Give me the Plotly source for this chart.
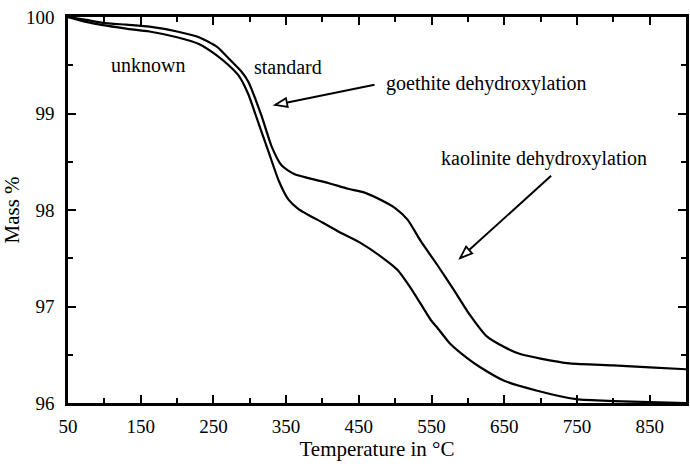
import plotly.graph_objects as go
import math

# ---- data ----
std_temp = [50, 75, 98, 130, 162, 200, 230, 255, 271, 289, 298, 316, 330, 344, 362,
            408, 435, 458, 489, 500, 517, 535, 558, 580, 603, 626, 650, 671, 700, 740,
            800, 850, 900]
std_mass = [100, 99.97, 99.94, 99.92, 99.9, 99.85, 99.79, 99.69, 99.57, 99.43, 99.33,
            98.98, 98.66, 98.46, 98.37, 98.28, 98.22, 98.18, 98.07, 98.02, 97.9, 97.68,
            97.43, 97.18, 96.91, 96.69, 96.58, 96.51, 96.46, 96.41, 96.39, 96.37, 96.35]

unk_temp = [50, 75, 98, 130, 162, 200, 230, 255, 271, 285, 298, 312, 326, 340, 353,
            367, 400, 421, 450, 480, 503, 525, 549, 558, 575, 600, 617, 650, 694, 749,
            800, 850, 900]
unk_mass = [100, 99.95, 99.915, 99.88, 99.85, 99.79, 99.72, 99.6, 99.5, 99.39, 99.2,
            98.9, 98.6, 98.3, 98.11, 98.01, 97.87, 97.78, 97.67, 97.52, 97.38, 97.15,
            96.86, 96.78, 96.62, 96.46, 96.37, 96.23, 96.13, 96.04, 96.02, 96.01, 96.0]

x_ticks = [50, 150, 250, 350, 450, 550, 650, 750, 850]
y_ticks = [96, 97, 98, 99, 100]

labels = ["unknown", "standard", "goethite dehydroxylation", "kaolinite dehydroxylation"]
label_x = [160, 352, 626, 705]
label_y = [99.50, 99.48, 99.31, 98.53]

# arrows: (tail_x, tail_y, tip_x, tip_y) in data units
arrows = [(471.6, 99.297, 334.8, 99.089),
          (714.5, 98.354, 589.4, 97.502)]

FONT = "Liberation Serif"
W, H = 690, 466
ML, MR, MT, MB = 68, 1, 17, 63
XR = (50, 900)
YR = (96, 100)

fig = go.Figure()
fig.add_trace(go.Scatter(x=std_temp, y=std_mass, mode="lines", name="standard",
                         line=dict(color="black", width=2.2, shape="spline", smoothing=0.6)))
fig.add_trace(go.Scatter(x=unk_temp, y=unk_mass, mode="lines", name="unknown",
                         line=dict(color="black", width=2.2, shape="spline", smoothing=0.6)))

for t, x, y in zip(labels, label_x, label_y):
    fig.add_annotation(x=x, y=y, text=t, showarrow=False,
                       font=dict(family=FONT, size=20, color="black"),
                       xanchor="center", yanchor="middle")

# pixel scale for arrowhead orientation
pw = W - ML - MR
ph = H - MT - MB
sx = pw / (XR[1] - XR[0])
sy = ph / (YR[1] - YR[0])
shapes = []
for (tx, ty, hx, hy) in arrows:
    shapes.append(dict(type="line", xref="x", yref="y", x0=tx, y0=ty, x1=hx, y1=hy,
                       line=dict(color="black", width=2)))
    dx = (hx - tx) * sx
    dy = (hy - ty) * sy  # y up
    L = math.hypot(dx, dy)
    ux, uy = dx / L, dy / L
    px, py = -uy, ux
    hl, hw = 12, 4.5
    bx, by = -ux * hl, -uy * hl
    p1 = (bx + px * hw, by + py * hw)
    p2 = (bx - px * hw, by - py * hw)
    path = f"M0,0 L{p1[0]:.2f},{p1[1]:.2f} L{p2[0]:.2f},{p2[1]:.2f} Z"
    shapes.append(dict(type="path", xref="x", yref="y", xsizemode="pixel",
                       ysizemode="pixel", xanchor=hx, yanchor=hy, path=path,
                       fillcolor="white", line=dict(color="black", width=1.8)))

fig.update_layout(
    width=W, height=H,
    margin=dict(l=ML, r=MR, t=MT, b=MB),
    paper_bgcolor="white", plot_bgcolor="white",
    showlegend=False,
    shapes=shapes,
    font=dict(family=FONT, color="black", size=20),
)
fig.update_xaxes(
    range=list(XR), tickmode="array", tickvals=x_ticks, ticktext=[str(v) for v in x_ticks],
    showgrid=False, zeroline=False, showline=True, linecolor="black", linewidth=2.5,
    mirror="allticks", ticks="inside", ticklen=8, tickwidth=2, tickcolor="black",
    minor=dict(dtick=50, tick0=50, ticks="inside", ticklen=5, tickwidth=2, tickcolor="black"),
    tickfont=dict(family=FONT, size=19, color="black"), ticklabelstandoff=4,
    title=dict(text="Temperature in °C", font=dict(family=FONT, size=21, color="black"),
               standoff=6),
)
fig.update_yaxes(
    range=list(YR), tickmode="array", tickvals=y_ticks, ticktext=[str(v) for v in y_ticks],
    showgrid=False, zeroline=False, showline=True, linecolor="black", linewidth=2.5,
    mirror="allticks", ticks="inside", ticklen=8, tickwidth=2, tickcolor="black",
    minor=dict(dtick=0.5, tick0=96, ticks="inside", ticklen=5, tickwidth=2, tickcolor="black"),
    tickfont=dict(family=FONT, size=19, color="black"), ticklabelstandoff=7,
    title=dict(text="Mass %", font=dict(family=FONT, size=21, color="black"), standoff=4),
)

fig.write_html("out.html")
